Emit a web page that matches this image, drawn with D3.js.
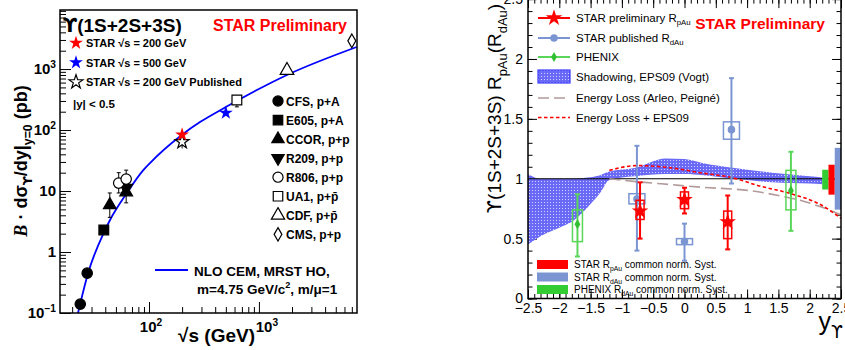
<!DOCTYPE html>
<html>
<head>
<meta charset="utf-8">
<style>
  body { margin: 0; background: #fff; }
  svg { display: block; font-family: "Liberation Sans", Arial, Helvetica, sans-serif; }
  .axis text { fill: #000; }
  .axis line { stroke: #000; }
</style>
</head>
<body>
<svg width="845" height="350"></svg>
<script src="https://cdn.jsdelivr.net/npm/d3@7/dist/d3.min.js"></script>
<script>
// ---------------- left panel: cross section vs sqrt(s) ----------------
// NLO CEM curve
const cemSqrtS = [22.6, 27.9, 38.9, 44.2, 62.7, 88.7, 102, 200, 291, 500, 1800, 7750];
const cemSigma = [0.1, 0.45, 2.1, 3.35, 9.2, 22, 28.8, 84, 135, 238, 800, 2300];

// world data
const expName  = ["CFS", "CFS", "E605", "CCOR", "CCOR", "R209", "R806", "R806", "UA1", "CDF", "CMS"];
const expSqrtS = [23.7, 27.4, 38.8, 44, 62, 62, 53, 62, 630, 1800, 7000];
const expSigma = [0.14, 0.45, 2.3, 5.9, 9.6, 11.2, 13.5, 15.7, 310, 950, 2900];
const expLow   = [0.14, 0.45, 2.3, 3.7, 6.4, 8.8, 9.3, 12.5, 240, 950, 2900];
const expHigh  = [0.14, 0.45, 2.3, 9.3, 15, 13.5, 20, 22, 330, 950, 2900];

// STAR
const starSqrtS = [200, 500];
const starSigma = [84, 191];
const starPubSqrtS = [200];
const starPubSigma = [64];
const starPubLow = [50];
const starPubHigh = [76];

// legend order for world data
const expLegend = ["CFS, p+A", "E605, p+A", "CCOR, p+p", "R209, p+p", "R806, p+p", "UA1, p+p\u0304", "CDF, p+p\u0304", "CMS, p+p"];

// ---------------- right panel: R_pAu vs rapidity ----------------
const starRap     = [-0.71, 0.0, 0.69];
const starVal     = [0.73, 0.825, 0.64];
const starStatLo  = [0.50, 0.71, 0.41];
const starStatHi  = [0.97, 0.925, 0.86];
const starSysLo   = [0.66, 0.75, 0.50];
const starSysHi   = [0.82, 0.89, 0.73];

const dauRap      = [-0.76, 0.0, 0.75];
const dauVal      = [0.83, 0.475, 1.41];
const dauStatLo   = [0.40, 0.315, 0.96];
const dauStatHi   = [1.275, 0.625, 1.84];
const dauSysLo    = [0.79, 0.45, 1.33];
const dauSysHi    = [0.875, 0.50, 1.475];

const phxRap      = [-1.71, 1.70];
const phxVal      = [0.62, 0.90];
const phxStatLo   = [0.35, 0.565];
const phxStatHi   = [0.87, 1.225];
const phxSysLo    = [0.475, 0.74];
const phxSysHi    = [0.74, 1.07];

const shadowRap = [-2.5, -2.3, -2.0, -1.75, -1.55, -1.35, -1.2, -0.8, -0.3, 0.0, 0.3, 0.8, 1.4, 2.0, 2.2];
const shadowLo  = [0.45, 0.52, 0.59, 0.66, 0.76, 0.88, 0.99, 1.02, 1.04, 1.04, 1.03, 1.00, 0.97, 0.96, 0.955];
const shadowHi  = [1.04, 1.00, 1.00, 1.00, 1.01, 1.03, 1.06, 1.09, 1.17, 1.165, 1.13, 1.09, 1.05, 1.02, 1.01];

const elossRap = [-1.2, -0.75, -0.2, 0.25, 1.05, 1.5, 1.85, 2.15, 2.5];
const elossVal = [1.0, 0.975, 0.95, 0.93, 0.9, 0.86, 0.82, 0.77, 0.70];
const elossEpsRap = [-1.2, -0.75, -0.2, 0.25, 0.75, 1.2, 1.7, 2.15, 2.5];
const elossEpsVal = [1.07, 1.11, 1.09, 1.05, 1.01, 0.94, 0.875, 0.79, 0.67];

// common normalisation boxes: PHENIX, STAR pAu, STAR dAu
const normRap0 = [2.2, 2.3, 2.4];
const normLo   = [0.91, 0.867, 0.742];
const normHi   = [1.075, 1.117, 1.258];

const red = "#ff0000", blue = "#7a95d2", green = "#5ad65a", greenDark = "#33c033";
const UPS = "'DejaVu Sans', sans-serif";   // font with a hooked upsilon

let svg = d3.select("svg");

// small helper for text with sub/superscripts
function rich(parent, x, y, parts, size, attrs) {
    let t = parent.append("text").attr("x", x).attr("y", y).attr("font-size", size);
    for (let k in (attrs || {})) t.attr(k, attrs[k]);
    let cur = 0;
    parts.forEach(p => {
        if (typeof p === "string") p = { t: p };
        let off = p.sup ? -0.42 * size : p.sub ? 0.3 * size : 0;
        let ts = t.append("tspan").text(p.t).attr("dy", off - cur);
        cur = off;
        if (p.sup || p.sub) ts.attr("font-size", size * 0.68);
        if (p.it) ts.attr("font-style", "italic");
        if (p.ff) ts.attr("font-family", p.ff);
    });
    return t;
}

function mark(g, x, y, type, size, fill, stroke, rot) {
    g.append("path")
        .attr("d", d3.symbol().type(type).size(size)())
        .attr("transform", `translate(${x},${y})` + (rot ? ` rotate(${rot})` : ""))
        .attr("fill", fill)
        .attr("stroke", stroke || "none")
        .attr("stroke-width", 1.2);
}

// ================= LEFT PANEL =================
let xL = d3.scaleLog().domain([15.5, 7800]).range([60, 357]);
let yL = d3.scaleLog().domain([0.1, 9300]).range([313, 10]);

let left = svg.append("g");
left.append("clipPath").attr("id", "clipL")
    .append("rect").attr("x", 60).attr("y", 10).attr("width", 297).attr("height", 303);

// ticks
let yMinor = [], xMinor = [];
[0.1, 1, 10, 100, 1000].forEach(d => d3.range(2, 10).forEach(k => { if (k * d < 9300) yMinor.push(k * d); }));
[10, 100, 1000].forEach(d => d3.range(2, 10).forEach(k => { if (k * d > 15.5 && k * d < 7800) xMinor.push(k * d); }));

left.append("g").attr("class", "axis").attr("transform", "translate(60,0)")
    .call(d3.axisLeft(yL).tickValues(yMinor).tickSize(-6).tickFormat(""))
    .call(g => g.select(".domain").remove());
left.append("g").attr("class", "axis").attr("transform", "translate(60,0)")
    .call(d3.axisLeft(yL).tickValues([0.1, 1, 10, 100, 1000]).tickSize(-11).tickFormat(""))
    .call(g => g.select(".domain").remove());
left.append("g").attr("class", "axis").attr("transform", "translate(0,313)")
    .call(d3.axisBottom(xL).tickValues(xMinor).tickSize(-6).tickFormat(""))
    .call(g => g.select(".domain").remove());
left.append("g").attr("class", "axis").attr("transform", "translate(0,313)")
    .call(d3.axisBottom(xL).tickValues([100, 1000]).tickSize(-11).tickFormat(""))
    .call(g => g.select(".domain").remove());

// tick labels
let yLab = [[0.1, "10", "\u22121"], [1, "1", null], [10, "10", null], [100, "10", "2"], [1000, "10", "3"]];
yLab.forEach(([v, base, ex]) => {
    let parts = [base];
    if (ex) parts.push({ t: ex, sup: 1 });
    rich(left, 56, yL(v) + 5, parts, 15, { "text-anchor": "end", "font-weight": "bold" });
});
[[100, "2", 2], [1000, "3", 8]].forEach(([v, ex, dx]) => {
    rich(left, xL(v) + dx, 332, ["10", { t: ex, sup: 1 }], 15, { "text-anchor": "middle", "font-weight": "bold" });
});

// axis titles
rich(left, 255, 342, ["\u221As (GeV)"], 19, { "text-anchor": "end", "font-weight": "bold" });
let ylt = left.append("g").attr("transform", "translate(27,161) rotate(-90)");
rich(ylt, 0, 0, [{ t: "B", it: 1, ff: "'Liberation Serif', serif" }, " \u00B7 d\u03C3", { t: "\u03D2", sub: 1, ff: UPS }, "/dy|", { t: "y=0", sub: 1 }, " (pb)"], 18,
    { "text-anchor": "middle", "font-weight": "bold" });

// NLO CEM curve
let cemData = cemSqrtS.map((s, i) => [s, cemSigma[i]]);
left.append("path")
    .datum(cemData)
    .attr("clip-path", "url(#clipL)")
    .attr("fill", "none")
    .attr("stroke", "#0000ff")
    .attr("stroke-width", 1.8)
    .attr("d", d3.line().x(d => xL(d[0])).y(d => yL(d[1])).curve(d3.curveMonotoneX));

// world data markers
let expStyle = {
    "CFS":  [d3.symbolCircle, 85, "#000"],
    "E605": [d3.symbolSquare, 95, "#000"],
    "CCOR": [d3.symbolTriangle, 70, "#000"],
    "R209": [d3.symbolTriangle, 70, "#000", 180],
    "R806": [d3.symbolCircle, 85, "#fff"],
    "UA1":  [d3.symbolSquare, 95, "#fff"],
    "CDF":  [d3.symbolTriangle, 80, "#fff"],
    "CMS":  [d3.symbolDiamond, 55, "#fff"]
};
expName.forEach((n, i) => {
    let x = xL(expSqrtS[i]);
    if (expHigh[i] > expSigma[i] || expLow[i] < expSigma[i]) {
        left.append("line").attr("x1", x).attr("x2", x)
            .attr("y1", yL(expLow[i])).attr("y2", yL(expHigh[i]))
            .attr("stroke", "#000").attr("stroke-width", 1);
        [expLow[i], expHigh[i]].forEach(v => left.append("line")
            .attr("x1", x - 2).attr("x2", x + 2).attr("y1", yL(v)).attr("y2", yL(v))
            .attr("stroke", "#000"));
    }
});
expName.forEach((n, i) => {
    let s = expStyle[n];
    mark(left, xL(expSqrtS[i]), yL(expSigma[i]), s[0], s[1], s[2], "#000", s[3]);
});

// STAR points
starPubSqrtS.forEach((s, i) => {
    let x = xL(s);
    left.append("line").attr("x1", x).attr("x2", x)
        .attr("y1", yL(starPubLow[i])).attr("y2", yL(starPubHigh[i])).attr("stroke", "#000");
    mark(left, x, yL(starPubSigma[i]), d3.symbolStar, 60, "#fff", "#000");
});
mark(left, xL(starSqrtS[0]), yL(starSigma[0]), d3.symbolStar, 60, red);
mark(left, xL(starSqrtS[1]), yL(starSigma[1]), d3.symbolStar, 60, "#0000ff");

// frame
left.append("rect").attr("x", 60).attr("y", 10).attr("width", 297).attr("height", 303)
    .attr("fill", "none").attr("stroke", "#000").attr("stroke-width", 1.5);

// texts
rich(left, 63, 32, [{ t: "\u03D2", ff: UPS }, "(1S+2S+3S)"], 19, { "font-weight": "bold" });
left.append("text").attr("x", 347).attr("y", 31).attr("text-anchor", "end")
    .attr("font-size", 16).attr("font-weight", "bold").attr("fill", red).text("STAR Preliminary");

let starLeg = [["STAR  \u221As = 200 GeV", red, "none"], ["STAR  \u221As = 500 GeV", "#0000ff", "none"], ["STAR  \u221As = 200 GeV Published", "#fff", "#000"]];
starLeg.forEach(([t, f, s], i) => {
    let y = 43 + i * 19.5;
    mark(left, 76, y, d3.symbolStar, 60, f, s);
    left.append("text").attr("x", 86).attr("y", y + 4).attr("font-size", 11)
        .attr("font-weight", "bold").text(t);
});
left.append("text").attr("x", 73).attr("y", 108).attr("font-size", 11.5)
    .attr("font-weight", "bold").text("|y| < 0.5");

let legNames = ["CFS", "E605", "CCOR", "R209", "R806", "UA1", "CDF", "CMS"];
legNames.forEach((n, i) => {
    let y = 101 + i * 19.05;
    let s = expStyle[n];
    mark(left, 278, y, s[0], s[1] * 0.95, s[2], "#000", s[3]);
    left.append("text").attr("x", 286).attr("y", y + 4.5).attr("font-size", 12)
        .attr("font-weight", "bold").text(expLegend[i]);
});

left.append("line").attr("x1", 155).attr("x2", 188).attr("y1", 270).attr("y2", 270)
    .attr("stroke", "#0000ff").attr("stroke-width", 1.8);
left.append("text").attr("x", 194).attr("y", 276).attr("font-size", 13.5)
    .attr("font-weight", "bold").text("NLO CEM, MRST HO,");
rich(left, 197, 294, ["m=4.75 GeV/c", { t: "2", sup: 1 }, ", m/\u03BC=1"], 13.5, { "font-weight": "bold" });

// ================= RIGHT PANEL =================
let xR = d3.scaleLinear().domain([-2.5, 2.5]).range([528, 841]);
let yR = d3.scaleLinear().domain([0, 2.5]).range([298.5, -0.9]);

let right = svg.append("g");
let defs = svg.append("defs");
defs.append("clipPath").attr("id", "clipR")
    .append("rect").attr("x", 528).attr("y", yR(2.5)).attr("width", 313).attr("height", yR(0) - yR(2.5));
let pat = defs.append("pattern").attr("id", "dots").attr("width", 3).attr("height", 3)
    .attr("patternUnits", "userSpaceOnUse");
pat.append("rect").attr("width", 3).attr("height", 3).attr("fill", "#6a6af6");
pat.append("rect").attr("x", 1).attr("y", 1).attr("width", 1).attr("height", 1).attr("fill", "#d0d0ff");

// ticks
let minR = d3.range(0, 51).map(i => -2.5 + i * 0.1);
let majR = d3.range(0, 11).map(i => -2.5 + i * 0.5);
let minY = d3.range(0, 26).map(i => i * 0.1);
let majY = d3.range(0, 6).map(i => i * 0.5);
let fmt = d => d3.format("~g")(d);

function ax(gen, tr, vals, size, withLabels, pad) {
    right.append("g").attr("class", "axis").attr("transform", tr)
        .call(gen.tickValues(vals).tickSize(size).tickPadding(pad || 3).tickFormat(withLabels ? fmt : ""))
        .call(g => g.select(".domain").remove())
        .call(g => g.selectAll("text").attr("font-size", 14).attr("font-family", null));
}
ax(d3.axisBottom(xR), `translate(0,${yR(0)})`, minR, -4.5);
ax(d3.axisBottom(xR), `translate(0,${yR(0)})`, majR, -9, true, 5);
ax(d3.axisTop(xR), `translate(0,${yR(2.5)})`, minR, -4.5);
ax(d3.axisTop(xR), `translate(0,${yR(2.5)})`, majR, -9);
ax(d3.axisLeft(yR), "translate(528,0)", minY, -4.5);
ax(d3.axisLeft(yR), "translate(528,0)", majY, -9, true, 5);
ax(d3.axisRight(yR), "translate(841,0)", minY, -4.5);
ax(d3.axisRight(yR), "translate(841,0)", majY, -9);

let plot = right.append("g").attr("clip-path", "url(#clipR)");

// shadowing band
let band = shadowRap.map((r, i) => ({ r: r, lo: shadowLo[i], hi: shadowHi[i] }));
plot.append("path").datum(band)
    .attr("fill", "url(#dots)")
    .attr("d", d3.area().x(d => xR(d.r)).y0(d => yR(d.lo)).y1(d => yR(d.hi)).curve(d3.curveMonotoneX));

// unity line
plot.append("line").attr("x1", xR(-2.5)).attr("x2", xR(2.5)).attr("y1", yR(1)).attr("y2", yR(1))
    .attr("stroke", "#000").attr("stroke-width", 1.2);

// energy loss curves
let lineR = d3.line().x(d => xR(d[0])).y(d => yR(d[1])).curve(d3.curveMonotoneX);
plot.append("path").datum(elossRap.map((r, i) => [r, elossVal[i]]))
    .attr("fill", "none").attr("stroke", "#b39a9a").attr("stroke-width", 1.6)
    .attr("stroke-dasharray", "11,5").attr("d", lineR);
plot.append("path").datum(elossEpsRap.map((r, i) => [r, elossEpsVal[i]]))
    .attr("fill", "none").attr("stroke", red).attr("stroke-width", 1.6)
    .attr("stroke-dasharray", "3.5,2.5").attr("d", lineR);

// data sets
function dataset(rap, val, sLo, sHi, yLo, yHi, col, halfW, sym, size, fill) {
    rap.forEach((r, i) => {
        let x = xR(r);
        plot.append("rect").attr("x", x - halfW).attr("y", yR(yHi[i]))
            .attr("width", 2 * halfW).attr("height", yR(yLo[i]) - yR(yHi[i]))
            .attr("fill", "none").attr("stroke", col).attr("stroke-width", 1.5);
        plot.append("line").attr("x1", x).attr("x2", x).attr("y1", yR(sLo[i])).attr("y2", yR(sHi[i]))
            .attr("stroke", col).attr("stroke-width", 2);
        [sLo[i], sHi[i]].forEach(v => plot.append("line")
            .attr("x1", x - 2.5).attr("x2", x + 2.5).attr("y1", yR(v)).attr("y2", yR(v))
            .attr("stroke", col).attr("stroke-width", 2));
        mark(plot, x, yR(val[i]), sym, size, fill);
    });
}
dataset(phxRap, phxVal, phxStatLo, phxStatHi, phxSysLo, phxSysHi, green, 5, d3.symbolDiamond, 30, greenDark);
dataset(dauRap, dauVal, dauStatLo, dauStatHi, dauSysLo, dauSysHi, blue, 8, d3.symbolCircle, 45, blue);
dataset(starRap, starVal, starStatLo, starStatHi, starSysLo, starSysHi, red, 4, d3.symbolStar, 85, red);

// normalisation boxes
let normCol = ["#33cc33", red, blue];
normRap0.forEach((r, i) => {
    right.append("rect").attr("x", xR(r)).attr("y", yR(normHi[i]))
        .attr("width", xR(r + 0.1) - xR(r)).attr("height", yR(normLo[i]) - yR(normHi[i]))
        .attr("fill", normCol[i]);
});

// frame
right.append("rect").attr("x", 528).attr("y", yR(2.5)).attr("width", 313).attr("height", yR(0) - yR(2.5))
    .attr("fill", "none").attr("stroke", "#000").attr("stroke-width", 1.5);

// axis titles
let rt = right.append("g").attr("transform", "translate(501,4) rotate(-90)");
rich(rt, 0, 0, [{ t: "\u03D2", ff: UPS }, "(1S+2S+3S) R", { t: "pAu", sub: 1 }, "(R", { t: "dAu", sub: 1 }, ")"], 19, { "text-anchor": "end" });
rich(right, 843, 330, ["y", { t: "\u03D2", sub: 1, ff: UPS }], 25, { "text-anchor": "end" });

// top legend
let legY = [18, 38, 57, 76.5, 98, 117.5];
let legTxt = [["STAR preliminary R", "pAu"], ["STAR published R", "dAu"], ["PHENIX"], ["Shadowing, EPS09 (Vogt)"], ["Energy Loss (Arleo, Peign\u00E9)"], ["Energy Loss + EPS09"]];
[[red, d3.symbolStar, 85], [blue, d3.symbolCircle, 45], [green, d3.symbolDiamond, 30]].forEach(([c, s, z], i) => {
    right.append("line").attr("x1", 538).attr("x2", 570).attr("y1", legY[i]).attr("y2", legY[i])
        .attr("stroke", c).attr("stroke-width", 2);
    mark(right, 554, legY[i], s, z, i === 2 ? greenDark : c);
});
right.append("rect").attr("x", 538).attr("y", legY[3] - 6.5).attr("width", 32).attr("height", 13)
    .attr("fill", "url(#dots)").attr("stroke", "#3a3aff").attr("stroke-width", 1.2);
right.append("line").attr("x1", 538).attr("x2", 570).attr("y1", legY[4]).attr("y2", legY[4])
    .attr("stroke", "#b39a9a").attr("stroke-width", 1.6).attr("stroke-dasharray", "11,5");
right.append("line").attr("x1", 538).attr("x2", 570).attr("y1", legY[5]).attr("y2", legY[5])
    .attr("stroke", red).attr("stroke-width", 1.6).attr("stroke-dasharray", "3.5,2.5");
legTxt.forEach((p, i) => {
    let parts = [p[0]];
    if (p[1]) parts.push({ t: p[1], sub: 1 });
    rich(right, 576, legY[i] + 4, parts, 11.5);
});

right.append("text").attr("x", 825).attr("y", 29).attr("text-anchor", "end")
    .attr("font-size", 15.5).attr("font-weight", "bold").attr("fill", red).text("STAR Preliminary");

// bottom legend (norm. syst.)
let nLeg = [[red, "STAR R", "pAu"], [blue, "STAR R", "dAu"], ["#33cc33", "PHENIX R", "dAu"]];
nLeg.forEach(([c, a, s], i) => {
    let y = 264.5 + i * 12.5;
    right.append("rect").attr("x", 537).attr("y", y - 4.5).attr("width", 31).attr("height", 9).attr("fill", c);
    rich(right, 574, y + 3.5, [a, { t: s, sub: 1 }, " common norm. Syst."], 10);
});
</script>
</body>
</html>
